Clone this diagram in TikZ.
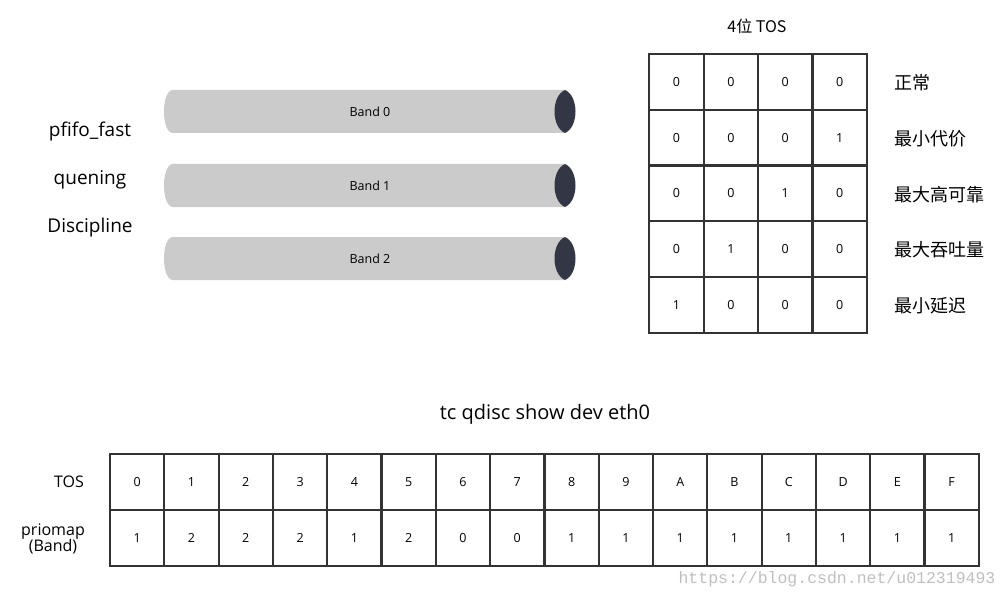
\documentclass[tikz,border=0pt]{standalone}
\usepackage{fontspec}
\setmainfont{Open Sans}
\newfontfamily\cjk{Noto Sans CJK SC}
\newfontfamily\wmfont{Liberation Mono}
\usepackage{tikz}
\usetikzlibrary{positioning,calc}
\definecolor{pipegray}{HTML}{CBCBCB}
\definecolor{pipeend}{HTML}{333644}
\definecolor{gridline}{HTML}{333333}

\begin{document}
\begin{tikzpicture}[x=1pt,y=-1pt]
  \tikzstyle{cell}=[draw=gridline,line width=2.2pt,rectangle,inner sep=0pt,
                    minimum width=54.4pt,minimum height=55.7pt,
                    font=\fontsize{12.5}{14}\selectfont]
  \tikzstyle{bigcell}=[cell,minimum width=54.3pt,minimum height=56pt]
  \tikzstyle{sidelabel}=[font=\fontsize{19}{23}\selectfont]
  \tikzstyle{meaning}=[anchor=west,font=\cjk\fontsize{18}{21}\selectfont]

  \useasboundingbox (0,0) rectangle (1007,599);

  % queues
  \foreach \b/\y in {0/90,1/164,2/237}{
    \fill[pipegray] (173,\y) -- (565,\y) -- (565,\y+43) -- (173,\y+43)
      .. controls (161,\y+43) and (161,\y) .. (173,\y);
    \fill[pipeend] (565,\y) .. controls (551,\y+6) and (551,\y+37) .. (565,\y+43)
      .. controls (579,\y+37) and (579,\y+6) .. (565,\y);
    \node[font=\fontsize{12.5}{14}\selectfont] (band\b) at (370,\y+22) {Band \b};
  }

  \node[sidelabel] (pfifo) at (90,132) {pfifo\_fast};
  \node[sidelabel] (quening) at (90,180) {quening};
  \node[sidelabel] (discipline) at (90,228) {Discipline};

  % 4-bit TOS table
  \node[font=\cjk\fontsize{16}{19}\selectfont] (tostitle) at (757,26) {4位 TOS};
  \foreach \r/\bits/\txt in {0/{0,0,0,0}/正常,1/{0,0,0,1}/最小代价,
                              2/{0,0,1,0}/最大高可靠,3/{0,1,0,0}/最大吞吐量,
                              4/{1,0,0,0}/最小延迟}{
    \foreach \v [count=\c from 0] in \bits
      \node[cell] (t\r\c) at (676.5+54.4*\c,82+55.7*\r) {\v};
    \node[meaning] (m\r) at (891,83+55.7*\r) {\txt};
  }

  % priomap
  \node[font=\fontsize{20}{24}\selectfont] (cmd) at (545,414) {tc qdisc show dev eth0};
  \node[font=\fontsize{16}{19}\selectfont] (toslab) at (69,482) {TOS};
  \node[font=\fontsize{16}{19}\selectfont,align=center] (priolab) at (53,539)
    {priomap\\[-3pt](Band)};
  \foreach \t/\p [count=\c from 0] in {0/1,1/2,2/2,3/2,4/1,5/2,6/0,7/0,
                                        8/1,9/1,A/1,B/1,C/1,D/1,E/1,F/1}{
    \node[bigcell] (tos\c) at (137.2+54.3*\c,482) {\t};
    \node[bigcell] (prio\c) at (137.2+54.3*\c,538) {\p};
  }

  \node[text=black!25,font=\wmfont\fontsize{16.5}{19}\selectfont] (wm) at (837,579)
    {https://blog.csdn.net/u012319493};
\end{tikzpicture}
\end{document}
